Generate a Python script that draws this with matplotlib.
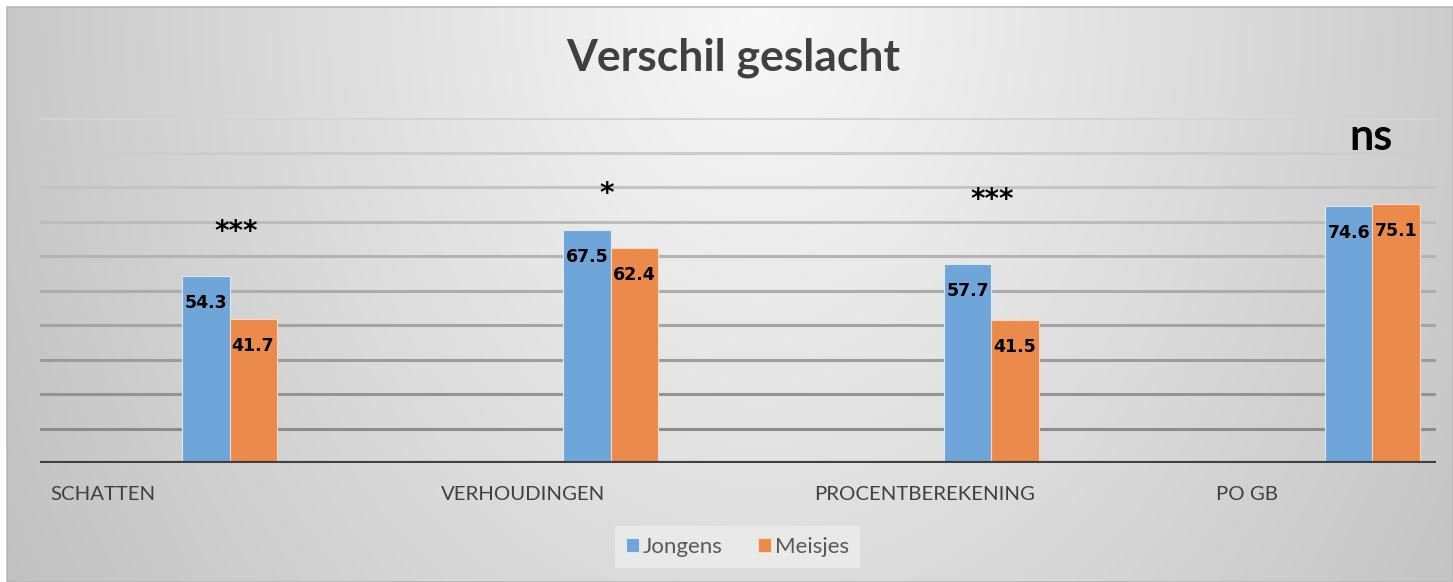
import numpy as np
import matplotlib
matplotlib.use("Agg")
import matplotlib.pyplot as plt
from matplotlib import font_manager
from matplotlib.patches import Rectangle

# data
categories = ["SCHATTEN", "VERHOUDINGEN", "PROCENTBEREKENING", "PO GB"]
jongens = [54.3, 67.5, 57.7, 74.6]
meisjes = [41.7, 62.4, 41.5, 75.1]
signif = ["***", "*", "***", "ns"]
signif_y = [67.0, 78.0, 76.2, 94.5]
series_names = ["Jongens", "Meisjes"]

names = {f.name for f in font_manager.fontManager.ttflist}
if "Lato" in names:
    sans, k = "Lato", 1.0
else:
    sans, k = "DejaVu Sans", 0.78
fam = [sans, "DejaVu Sans"]

W, H = 1453, 582
fig = plt.figure(figsize=(W / 100, H / 100), dpi=100)
fig.patch.set_facecolor("white")

# background panel with soft gradient
bg = fig.add_axes([0, 0, 1, 1], zorder=0)
bg.set_xlim(0, W)
bg.set_ylim(H, 0)
bg.axis("off")
xx, yy = np.meshgrid(np.linspace(7, W, 400), np.linspace(7, H, 160))
d = np.sqrt(((xx - 760) / 760) ** 2 + (yy / 1000) ** 2)
L = np.clip(0.975 - 0.19 * d, 0, 1)
bg.imshow(np.dstack([L, L, L]), extent=(7, W, H, 7), aspect="auto", interpolation="bilinear")
bg.add_patch(Rectangle((7, 7), W - 7, H - 7, fill=False, edgecolor="#b8b8b8", lw=1.2))

# title
bg.text(733, 58, "Verschil geslacht", family=fam, fontsize=32 * k,
        fontweight="bold", color="#404040", ha="center", va="center")

# main axes
ax = fig.add_axes([40 / W, 1 - 463 / H, 1396 / W, 345 / H], zorder=1)
ax.set_facecolor("none")
for s in ax.spines.values():
    s.set_visible(False)
ax.set_xlim(-0.4974, 3.1667)
ax.set_ylim(0, 100)
ax.set_xticks([])
ax.set_yticks([])

# gridlines, lighter towards the top
for v in range(10, 101, 10):
    t = (v - 10) / 90
    g = 0.55 + t * (0.83 - 0.55)
    ax.axhline(v, color=(g, g, g), lw=2.2, zorder=1)
ax.axhline(0, color="#404040", lw=3, zorder=4)

x = np.arange(len(categories))
w = 0.1234
b1 = ax.bar(x - w / 2, jongens, w, color="#6fa5d8", edgecolor="#dde8f3", lw=0.8, zorder=3, label=series_names[0])
b2 = ax.bar(x + w / 2, meisjes, w, color="#ec8a4b", edgecolor="#f6d9c4", lw=0.8, zorder=3, label=series_names[1])

for bars, vals in [(b1, jongens), (b2, meisjes)]:
    for r, v in zip(bars, vals):
        ax.annotate(f"{v:.1f}", (r.get_x() + r.get_width() / 2, v), xytext=(0, -19.5),
                    textcoords="offset points", ha="center", va="center",
                    fontsize=12.5, fontweight="bold", color="black", zorder=5)

star_dx = [0.017, -0.009, 0.003, -0.005]
for i, (s, sy) in enumerate(zip(signif, signif_y)):
    if s == "ns":
        ax.text(i + star_dx[i], sy, s, family=fam, fontsize=31 * k,
                fontweight="bold", color="black", ha="center", va="center", zorder=5)
    else:
        ax.text(i + star_dx[i], sy, s, fontsize=20, fontweight="bold", color="black",
                ha="center", va="center", zorder=5)

# category labels (left aligned under each slot)
label_x = [50, 441, 814, 1216]
for lx, c in zip(label_x, categories):
    bg.text(lx, 495, c, family=fam, fontsize=14.7 * k, color="#404040",
            ha="left", va="center")

leg = ax.legend(handles=[b1, b2], loc="center", bbox_to_anchor=(737.5 / W, 1 - 547 / H),
                bbox_transform=fig.transFigure, ncol=2, frameon=True, fancybox=False,
                prop={"family": fam, "size": 16 * k},
                handlelength=0.6, handleheight=0.55, handletextpad=0.15, columnspacing=1.6,
                borderpad=0.5, borderaxespad=0)
leg.get_frame().set_facecolor("#ebebeb")
leg.get_frame().set_edgecolor("none")
leg.get_frame().set_alpha(0.9)
for t in leg.get_texts():
    t.set_color("#595959")

fig.savefig("out.png", dpi=100)
